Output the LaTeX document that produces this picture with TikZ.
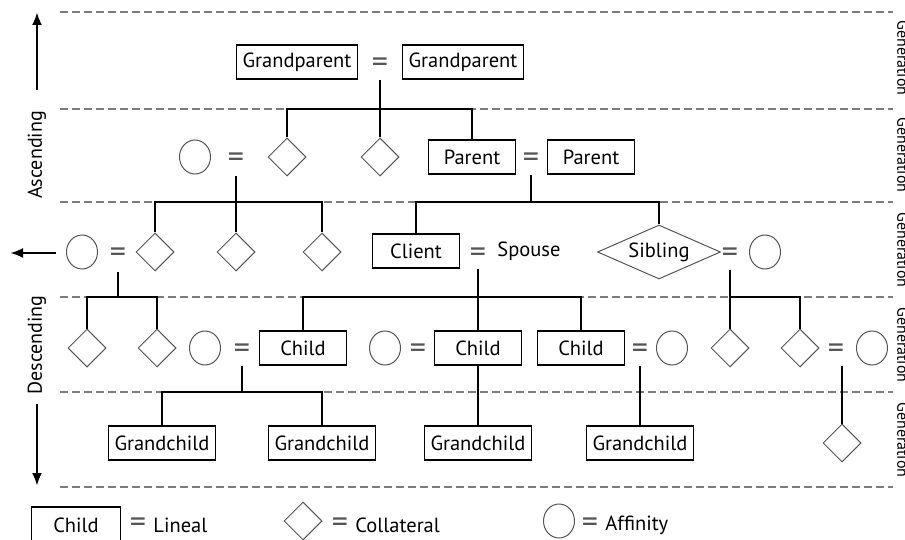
\documentclass[tikz,border=0pt]{standalone}
\usepackage{fontspec}
\setmainfont{PT Sans}
\newfontfamily\sidefont{PT Sans}
\usetikzlibrary{shapes.geometric,arrows.meta,positioning,calc}
\definecolor{DashGray}{RGB}{125,125,125}
\definecolor{ShapeGray}{RGB}{85,85,85}
\tikzset{
  lineal/.style={draw,line width=1.1pt,minimum width=87pt,minimum height=34pt,inner sep=2pt,font=\fontsize{20.5}{22}\selectfont},
  collat/.style={diamond,draw=ShapeGray,line width=1pt,minimum size=38pt,inner sep=0pt},
  sibbox/.style={diamond,draw=ShapeGray,line width=1pt,aspect=2.3,minimum width=123pt,minimum height=54pt,inner sep=0pt,font=\fontsize{20.5}{22}\selectfont},
  affin/.style={ellipse,draw=ShapeGray,line width=1pt,minimum width=31pt,minimum height=34pt,inner sep=0pt},
  eqsign/.style={inner sep=0pt,text=ShapeGray,yshift=-3pt,font=\fontsize{32}{32}\selectfont},
  plain/.style={inner sep=1pt,font=\fontsize{20.5}{22}\selectfont},
  kin/.style={line width=2.6pt},
  guide/.style={DashGray,line width=1.6pt,dash pattern=on 8pt off 4pt},
  axis/.style={line width=2.6pt,-{Latex[length=13pt,width=10pt]}},
}
\begin{document}
\begin{tikzpicture}[x=1pt,y=-1pt]
\clip(0,0)rectangle(905,540);
% Generation bands
\foreach \y in {12,109,202,297,392,487}{
  \draw[guide](60,\y)--(893,\y);
}
\foreach \y in {58,155,250,345,440}{
  \node[rotate=-90,anchor=south,inner sep=0pt,font=\sidefont\fontsize{16}{16}\selectfont]at(897,\y){Generation};
}
% Direction arrows
\draw[axis](37,90)--(37,12);
\draw[axis](56,253)--(10,253);
\draw[axis](37,404)--(37,486);
\node[rotate=90,font=\sidefont\fontsize{20}{22}\selectfont](asc)at(37,155){Ascending};
\node[rotate=90,font=\sidefont\fontsize{20}{22}\selectfont](desc)at(37,345){Descending};
% Gen 1
\node[lineal,minimum width=121pt](gp1)at(297,62){Grandparent};
\node[eqsign](eq1)at(380,62){=};
\node[lineal,minimum width=121pt](gp2)at(463,62){Grandparent};
% Gen 2
\node[affin](g2c)at(195,157){};
\node[eqsign](eq2a)at(236,157){=};
\node[collat](g2d1)at(287,157){};
\node[collat](g2d2)at(380,157){};
\node[lineal](pa1)at(472,157){Parent};
\node[eqsign](eq2b)at(531,157){=};
\node[lineal](pa2)at(591,157){Parent};
% Gen 3
\node[affin](g3c1)at(82,252){};
\node[eqsign](eq3a)at(118,252){=};
\node[collat](g3d1)at(155,252){};
\node[collat](g3d2)at(236,252){};
\node[collat](g3d3)at(322,252){};
\node[lineal](cl)at(416,251){Client};
\node[eqsign](eq3b)at(478,252){=};
\node[plain](sp)at(529,251){Spouse};
\node[sibbox](sib)at(659,252){Sibling};
\node[eqsign](eq3c)at(730,252){=};
\node[affin](g3c2)at(765,252){};
% Gen 4
\node[collat](g4d1)at(87,348){};
\node[collat](g4d2)at(157,348){};
\node[affin](g4c1)at(205,348){};
\node[eqsign](eq4a)at(242,348){=};
\node[lineal](ch1)at(303,348){Child};
\node[affin](g4c2)at(385,348){};
\node[eqsign](eq4b)at(418,348){=};
\node[lineal](ch2)at(478,348){Child};
\node[lineal](ch3)at(581,348){Child};
\node[eqsign](eq4c)at(640,348){=};
\node[affin](g4c3)at(672,348){};
\node[collat](g4d3)at(730,348){};
\node[collat](g4d4)at(800,348){};
\node[eqsign](eq4d)at(836,348){=};
\node[affin](g4c4)at(872,348){};
% Gen 5
\node[lineal,minimum width=107pt](gc1)at(162,443){Grandchild};
\node[lineal,minimum width=107pt](gc2)at(322,443){Grandchild};
\node[lineal,minimum width=107pt](gc3)at(478,443){Grandchild};
\node[lineal,minimum width=107pt](gc4)at(640,443){Grandchild};
\node[collat](g5d)at(842,443){};
% Descent lines
\coordinate(j1)at(380,109);
\draw[kin](eq1|-gp1.south)--(j1);
\draw[kin](g2d1.north)|-(j1)-|(pa1.north);
\draw[kin](j1)--(g2d2.north);
\coordinate(j2a)at(236,202);
\draw[kin](eq2a|-g2d1.south)--(j2a);
\draw[kin](g3d1.north)|-(j2a)-|(g3d3.north);
\draw[kin](j2a)--(g3d2.north);
\coordinate(j2b)at(531,202);
\draw[kin](eq2b|-pa1.south)--(j2b);
\draw[kin](cl.north)|-(j2b)-|(sib.north);
\coordinate(j3a)at(118,297);
\draw[kin](eq3a|-g3d1.south)--(j3a);
\draw[kin](g4d1.north)|-(j3a)-|(g4d2.north);
\coordinate(j3b)at(478,297);
\draw[kin](eq3b|-cl.south)--(j3b);
\draw[kin](ch1.north)|-(j3b)-|(ch3.north);
\draw[kin](j3b)--(ch2.north);
\coordinate(j3c)at(730,297);
\draw[kin](eq3c|-g3c2.south)--(g4d3.north);
\draw[kin](j3c)-|(g4d4.north);
\coordinate(j4a)at(242,392);
\draw[kin](eq4a|-g4c1.south)--(j4a);
\draw[kin](gc1.north)|-(j4a)-|(gc2.north);
\draw[kin](ch2.south)--(gc3.north);
\draw[kin](eq4c|-ch3.south)--(gc4.north);
\draw[kin](g5d.north|-g4c4.south)--(g5d.north);
% Legend
\node[lineal,minimum width=89pt,minimum height=36pt](lgl)at(76,525){Child};
\node[eqsign](lge1)at(138,522){=};
\node[plain,right=6pt of lge1](lgt1){Lineal};
\node[collat](lgd)at(303,521){};
\node[eqsign](lge2)at(340,522){=};
\node[plain,right=6pt of lge2](lgt2){Collateral};
\node[affin](lga)at(559,521){};
\node[eqsign](lge3)at(590,522){=};
\node[plain,right=6pt of lge3](lgt3){Affinity};
\end{tikzpicture}
\end{document}
